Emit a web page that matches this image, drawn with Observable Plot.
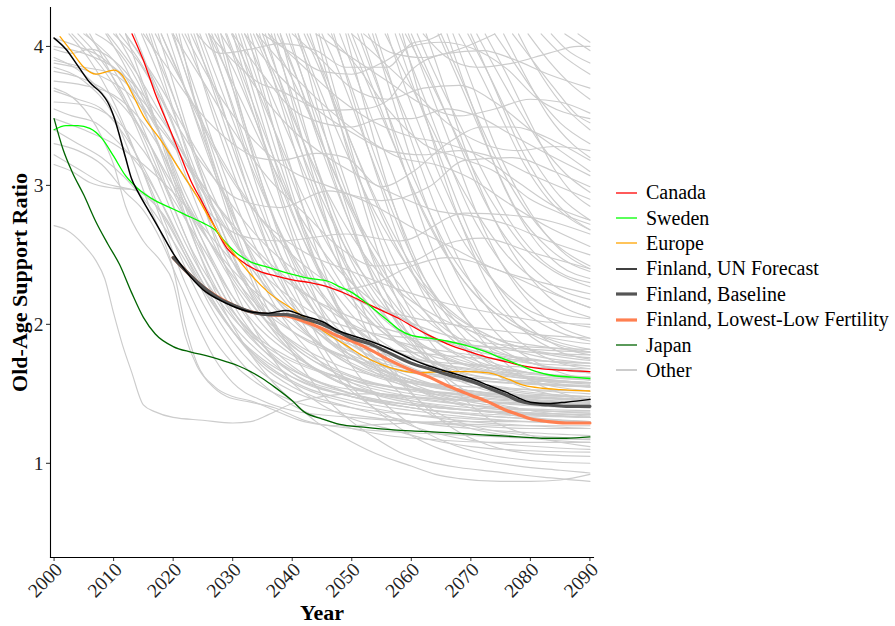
<!DOCTYPE html>
<html><head><meta charset="utf-8">
<script src="https://cdn.jsdelivr.net/npm/d3@7"></script>
<script src="https://cdn.jsdelivr.net/npm/@observablehq/plot@0.6"></script>
<style>
body{margin:0;background:#fff;}
#wrap{position:relative;width:895px;height:626px;font-family:"Liberation Serif","Times New Roman",serif;}
#legend{position:absolute;left:616px;top:180px;}
.item{display:flex;align-items:center;height:25.4px;font-size:20px;color:#000;white-space:nowrap;font-family:"Liberation Serif","Times New Roman",serif;}
.item svg{margin-right:9px;display:block;}
</style></head><body><div id="wrap"><div id="chart"></div><div id="legend"></div></div>
<script>
// ---- tick labels ----
const xTicks = [2000, 2010, 2020, 2030, 2040, 2050, 2060, 2070, 2080, 2090];
const yTicks = [1, 2, 3, 4];

// ---- highlighted series: [year, ratio] ----
const canada = [[2013.1,4.09],[2015,3.9],[2017,3.66],[2019,3.45],[2021,3.24],[2023,3.03],[2025,2.87],[2027,2.7],[2029,2.55],[2031,2.47],[2034,2.39],[2037,2.35],[2040,2.32],[2043,2.3],[2046,2.27],[2049,2.22],[2052,2.16],[2055,2.1],[2058,2.04],[2060,1.99],[2063,1.92],[2066,1.86],[2070,1.8],[2073,1.76],[2076,1.73],[2079,1.7],[2082,1.68],[2085,1.67],[2090,1.66]];
const sweden = [[2000,3.4],[2002,3.43],[2004,3.43],[2006,3.41],[2008,3.34],[2010,3.21],[2012,3.07],[2014,2.98],[2017,2.89],[2020,2.83],[2022,2.79],[2025,2.73],[2027,2.68],[2029,2.58],[2031,2.5],[2033,2.45],[2036,2.41],[2040,2.36],[2043,2.33],[2046,2.31],[2048,2.27],[2050,2.23],[2052,2.17],[2054,2.1],[2056,2.03],[2058,1.96],[2060,1.92],[2063,1.9],[2066,1.88],[2069,1.85],[2072,1.81],[2075,1.76],[2078,1.71],[2081,1.66],[2084,1.63],[2087,1.62],[2090,1.61]];
const europe = [[2001,4.07],[2003,3.96],[2005,3.85],[2007,3.8],[2009,3.82],[2010,3.83],[2011.5,3.79],[2013,3.67],[2015,3.5],[2018,3.32],[2021,3.12],[2024,2.92],[2026,2.77],[2028,2.63],[2030,2.52],[2033,2.36],[2036,2.23],[2040,2.11],[2043,2.02],[2046,1.93],[2049,1.85],[2052,1.77],[2055,1.71],[2058,1.67],[2061,1.65],[2065,1.66],[2069,1.66],[2073,1.65],[2076,1.61],[2079,1.56],[2082,1.54],[2085,1.53],[2090,1.52]];
const finlandUN = [[2000,4.06],[2002,3.98],[2004,3.86],[2006,3.74],[2008,3.66],[2009,3.6],[2010,3.5],[2012,3.2],[2013,3.05],[2014,2.96],[2016,2.81],[2018,2.66],[2020,2.51],[2022,2.39],[2025,2.25],[2028,2.17],[2030,2.13],[2033,2.09],[2036,2.08],[2039,2.1],[2042,2.06],[2045,2.02],[2048,1.95],[2050,1.92],[2053,1.88],[2056,1.83],[2060,1.75],[2063,1.7],[2066,1.66],[2070,1.61],[2073,1.56],[2076,1.51],[2078,1.47],[2080,1.44],[2083,1.43],[2086,1.44],[2090,1.46]];
const finlandBaseline = [[2020,2.48],[2022,2.39],[2025,2.27],[2028,2.18],[2030,2.14],[2033,2.09],[2036,2.07],[2039,2.07],[2042,2.04],[2045,2.0],[2048,1.94],[2050,1.9],[2053,1.86],[2056,1.8],[2060,1.72],[2063,1.68],[2066,1.64],[2070,1.59],[2073,1.54],[2076,1.49],[2078,1.45],[2080,1.43],[2083,1.42],[2086,1.41],[2090,1.41]];
const finlandLowLow = [[2020,2.48],[2025,2.27],[2030,2.14],[2033,2.09],[2036,2.07],[2039,2.06],[2042,2.02],[2045,1.97],[2048,1.91],[2050,1.88],[2053,1.82],[2056,1.75],[2060,1.67],[2063,1.62],[2066,1.56],[2070,1.49],[2073,1.44],[2076,1.38],[2078,1.35],[2080,1.32],[2083,1.3],[2086,1.29],[2090,1.29]];
const japan = [[2000,3.48],[2001.5,3.26],[2003,3.1],[2005,2.93],[2007,2.74],[2009,2.58],[2011,2.43],[2013,2.23],[2015,2.05],[2017,1.93],[2020,1.84],[2023,1.8],[2026,1.77],[2029,1.73],[2031,1.7],[2033,1.66],[2035,1.61],[2037,1.55],[2040,1.45],[2042,1.37],[2045,1.32],[2048,1.28],[2052,1.26],[2057,1.24],[2062,1.23],[2066,1.22],[2070,1.21],[2074,1.2],[2078,1.19],[2082,1.18],[2086,1.18],[2090,1.19]];

// ---- other countries: [year, ratio] ----
const otherSeries = [
 [[2000,4.06],[2004,4.0],[2008,3.92],[2012,3.75],[2016,3.45],[2020,3.05],[2025,2.6],[2030,2.2],[2035,1.9],[2040,1.7],[2050,1.5],[2060,1.4],[2070,1.35],[2080,1.32],[2090,1.3]],
 [[2000,3.98],[2003,3.95],[2006,3.98],[2010,3.9],[2014,3.7],[2018,3.35],[2022,2.95],[2026,2.6],[2030,2.3],[2035,2.0],[2040,1.8],[2050,1.55],[2060,1.45],[2070,1.4],[2080,1.38],[2090,1.36]],
 [[2000,3.9],[2005,3.85],[2010,3.8],[2015,3.6],[2020,3.3],[2025,2.95],[2030,2.6],[2035,2.3],[2040,2.05],[2045,1.85],[2050,1.7],[2060,1.55],[2070,1.48],[2080,1.45],[2090,1.44]],
 [[2000,3.82],[2004,3.78],[2008,3.7],[2012,3.55],[2016,3.3],[2020,2.95],[2025,2.5],[2030,2.1],[2035,1.85],[2040,1.68],[2050,1.5],[2060,1.42],[2070,1.38],[2080,1.35],[2090,1.33]],
 [[2000,3.75],[2005,3.72],[2010,3.65],[2014,3.5],[2018,3.25],[2022,2.9],[2026,2.6],[2030,2.35],[2035,2.1],[2040,1.95],[2050,1.75],[2060,1.6],[2070,1.52],[2080,1.48],[2090,1.45]],
 [[2000,3.68],[2004,3.62],[2008,3.55],[2012,3.35],[2016,3.05],[2020,2.7],[2025,2.3],[2030,1.95],[2035,1.7],[2040,1.55],[2050,1.4],[2060,1.3],[2070,1.25],[2080,1.22],[2090,1.2]],
 [[2000,3.6],[2005,3.58],[2010,3.48],[2015,3.25],[2020,2.9],[2025,2.55],[2030,2.2],[2035,1.95],[2040,1.78],[2050,1.58],[2060,1.48],[2070,1.42],[2080,1.38],[2090,1.37]],
 [[2000,3.55],[2003,3.5],[2007,3.45],[2011,3.3],[2015,3.1],[2019,2.8],[2023,2.45],[2027,2.15],[2031,1.9],[2036,1.7],[2042,1.55],[2050,1.45],[2060,1.38],[2070,1.33],[2080,1.3],[2090,1.29]],
 [[2000,3.48],[2005,3.4],[2010,3.3],[2015,3.15],[2020,2.95],[2025,2.7],[2030,2.45],[2035,2.2],[2040,2.0],[2045,1.85],[2050,1.72],[2060,1.58],[2070,1.5],[2080,1.46],[2090,1.44]],
 [[2000,3.4],[2004,3.3],[2008,3.2],[2012,3.05],[2016,2.85],[2020,2.6],[2025,2.25],[2030,1.95],[2035,1.72],[2040,1.58],[2050,1.43],[2060,1.35],[2070,1.3],[2080,1.27],[2090,1.25]],
 [[2000,3.22],[2004,3.12],[2008,3.02],[2012,2.98],[2015,2.95],[2018,2.8],[2022,2.5],[2026,2.2],[2030,1.95],[2035,1.75],[2040,1.62],[2050,1.48],[2060,1.4],[2070,1.36],[2080,1.34],[2090,1.33]],
 [[2000,3.15],[2003,3.1],[2006,3.02],[2010,2.98],[2013,2.97],[2016,2.9],[2019,2.75],[2022,2.5],[2026,2.15],[2030,1.88],[2035,1.65],[2040,1.52],[2050,1.4],[2060,1.35],[2070,1.32],[2080,1.3],[2090,1.3]],
 [[2000,2.71],[2002,2.68],[2005,2.57],[2007,2.46],[2008.5,2.33],[2010,2.08],[2011.5,1.85],[2013,1.66],[2015,1.42],[2017,1.37],[2020,1.33],[2025,1.31],[2030,1.29],[2033,1.3],[2036,1.35],[2040,1.43],[2045,1.48],[2050,1.5],[2055,1.5],[2060,1.48],[2070,1.45],[2080,1.42],[2090,1.4]],
 [[2000,3.3],[2004,3.25],[2008,3.15],[2012,2.95],[2015,2.82],[2018,2.6],[2021,2.3],[2024,2.0],[2027,1.75],[2030,1.58],[2035,1.45],[2040,1.38],[2050,1.33],[2060,1.3],[2070,1.28],[2080,1.27],[2090,1.27]],
 [[2000,3.7],[2004,3.6],[2008,3.35],[2010,3.15],[2012,2.85],[2015,2.6],[2018,2.45],[2020,2.3],[2022,1.92],[2024,1.7],[2026,1.58],[2029,1.48],[2033,1.44],[2037,1.4],[2042,1.31],[2050,1.25],[2060,1.22],[2070,1.2],[2080,1.18],[2090,1.17]],
 [[2000,3.85],[2005,3.75],[2010,3.5],[2013,3.2],[2016,2.85],[2018,2.65],[2020,2.4],[2022,2.0],[2024,1.72],[2027,1.55],[2030,1.48],[2033,1.45],[2036,1.4],[2042,1.3],[2048,1.27],[2055,1.28],[2065,1.3],[2075,1.3],[2090,1.3]],
 [[2002.5,4.09],[2006,3.9],[2010,3.6],[2014,3.2],[2018,2.75],[2022,2.3],[2026,1.95],[2030,1.72],[2035,1.55],[2040,1.45],[2050,1.35],[2060,1.3],[2070,1.27],[2080,1.25],[2090,1.25]],
 [[2005.4,4.09],[2009,3.9],[2013,3.6],[2017,3.2],[2021,2.75],[2025,2.35],[2030,2.0],[2035,1.78],[2040,1.62],[2050,1.48],[2060,1.42],[2070,1.38],[2080,1.36],[2090,1.35]],
 [[2007,4.09],[2010,4.0],[2014,3.75],[2018,3.35],[2022,2.9],[2026,2.5],[2030,2.15],[2035,1.85],[2040,1.65],[2050,1.48],[2060,1.4],[2070,1.35],[2080,1.32],[2090,1.3]],
 [[2008.7,4.09],[2012,3.85],[2016,3.45],[2020,3.0],[2024,2.55],[2028,2.2],[2032,1.95],[2038,1.72],[2045,1.58],[2055,1.5],[2065,1.46],[2075,1.44],[2090,1.42]],
 [[2010.4,4.09],[2014,3.8],[2018,3.35],[2022,2.85],[2026,2.42],[2030,2.1],[2035,1.82],[2040,1.65],[2050,1.5],[2060,1.42],[2070,1.38],[2080,1.35],[2090,1.33]],
 [[2012,4.09],[2015,3.9],[2019,3.55],[2023,3.1],[2027,2.65],[2031,2.3],[2036,2.0],[2042,1.78],[2050,1.62],[2060,1.52],[2070,1.47],[2080,1.44],[2090,1.42]],
 [[2014.7,4.09],[2018,3.75],[2022,3.3],[2026,2.85],[2030,2.45],[2035,2.1],[2040,1.85],[2045,1.7],[2050,1.6],[2060,1.5],[2070,1.45],[2080,1.42],[2090,1.4]],
 [[2016.4,4.09],[2020,3.65],[2024,3.15],[2028,2.7],[2032,2.3],[2036,2.0],[2040,1.8],[2046,1.62],[2055,1.5],[2065,1.44],[2075,1.4],[2090,1.38]],
 [[2018,4.09],[2021,3.8],[2025,3.35],[2029,2.9],[2033,2.5],[2037,2.2],[2042,1.95],[2048,1.75],[2055,1.62],[2065,1.55],[2075,1.5],[2090,1.48]],
 [[2019.8,4.09],[2023,3.7],[2027,3.2],[2031,2.7],[2035,2.3],[2040,1.95],[2045,1.72],[2050,1.58],[2060,1.45],[2070,1.38],[2080,1.35],[2090,1.33]],
 [[2021.5,4.09],[2025,3.75],[2029,3.3],[2033,2.85],[2037,2.45],[2041,2.15],[2046,1.9],[2052,1.72],[2060,1.6],[2070,1.52],[2080,1.48],[2090,1.46]],
 [[2023,4.09],[2026,3.8],[2030,3.35],[2034,2.9],[2038,2.5],[2042,2.2],[2047,1.92],[2053,1.72],[2060,1.6],[2070,1.5],[2080,1.45],[2090,1.43]],
 [[2025.5,4.09],[2029,3.7],[2033,3.2],[2037,2.75],[2041,2.4],[2046,2.05],[2052,1.8],[2060,1.62],[2070,1.52],[2080,1.48],[2090,1.46]],
 [[2027,4.09],[2030,3.85],[2034,3.45],[2038,3.0],[2042,2.6],[2046,2.3],[2051,2.02],[2057,1.82],[2065,1.68],[2075,1.6],[2090,1.55]],
 [[2028.8,4.09],[2032,3.7],[2036,3.2],[2040,2.7],[2044,2.3],[2048,2.0],[2053,1.75],[2060,1.55],[2070,1.42],[2080,1.36],[2090,1.33]],
 [[2029.8,4.09],[2033,3.8],[2037,3.4],[2041,3.0],[2045,2.65],[2050,2.3],[2055,2.05],[2062,1.85],[2070,1.72],[2080,1.65],[2090,1.62]],
 [[2031,4.09],[2034,3.7],[2038,3.15],[2042,2.65],[2046,2.25],[2050,1.95],[2055,1.7],[2060,1.55],[2070,1.4],[2080,1.33],[2090,1.3]],
 [[2032,4.09],[2035,3.8],[2039,3.4],[2043,3.0],[2047,2.6],[2052,2.25],[2058,1.95],[2065,1.78],[2075,1.65],[2090,1.58]],
 [[2033,4.09],[2036,3.65],[2040,3.1],[2044,2.55],[2048,2.1],[2052,1.8],[2057,1.55],[2062,1.38],[2070,1.25],[2080,1.18],[2090,1.15]],
 [[2035,4.09],[2038,3.75],[2042,3.3],[2046,2.85],[2050,2.45],[2055,2.1],[2060,1.85],[2067,1.65],[2075,1.52],[2090,1.45]],
 [[2036,4.09],[2039,3.85],[2043,3.5],[2047,3.1],[2051,2.75],[2056,2.4],[2062,2.1],[2070,1.85],[2080,1.72],[2090,1.66]],
 [[2037,4.09],[2040,3.6],[2044,3.0],[2048,2.45],[2052,2.0],[2056,1.7],[2060,1.5],[2065,1.35],[2072,1.25],[2080,1.2],[2090,1.18]],
 [[2039,4.09],[2042,3.75],[2046,3.3],[2050,2.85],[2054,2.45],[2059,2.1],[2065,1.85],[2072,1.7],[2080,1.62],[2090,1.58]],
 [[2040.5,4.09],[2044,3.7],[2048,3.15],[2052,2.65],[2056,2.2],[2060,1.9],[2065,1.65],[2070,1.5],[2080,1.38],[2090,1.34]],
 [[2042,4.09],[2045,3.8],[2049,3.4],[2053,3.0],[2057,2.65],[2062,2.3],[2068,2.05],[2075,1.88],[2082,1.8],[2090,1.76]],
 [[2044,4.09],[2047,3.6],[2051,3.0],[2055,2.45],[2059,2.05],[2063,1.75],[2068,1.5],[2073,1.32],[2080,1.2],[2090,1.12]],
 [[2045,4.09],[2048,3.8],[2052,3.35],[2056,2.9],[2060,2.5],[2065,2.15],[2070,1.92],[2078,1.75],[2090,1.65]],
 [[2046.6,4.09],[2050,3.7],[2054,3.2],[2058,2.75],[2062,2.35],[2067,2.0],[2072,1.78],[2080,1.6],[2090,1.52]],
 [[2048,4.09],[2051,3.75],[2055,3.3],[2059,2.85],[2063,2.45],[2068,2.1],[2074,1.85],[2082,1.7],[2090,1.65]],
 [[2049.4,4.09],[2052,3.8],[2056,3.4],[2060,3.0],[2064,2.65],[2069,2.3],[2075,2.05],[2082,1.92],[2090,1.86]],
 [[2051.6,4.09],[2055,3.65],[2059,3.1],[2063,2.6],[2067,2.2],[2072,1.88],[2078,1.65],[2084,1.52],[2090,1.46]],
 [[2052.8,4.09],[2056,3.8],[2060,3.4],[2064,3.0],[2068,2.65],[2073,2.35],[2079,2.12],[2085,2.02],[2090,1.98]],
 [[2054,4.09],[2057,3.7],[2061,3.2],[2065,2.75],[2069,2.38],[2074,2.05],[2080,1.82],[2085,1.72],[2090,1.68]],
 [[2055.6,4.09],[2059,3.8],[2063,3.45],[2067,3.1],[2071,2.8],[2076,2.5],[2082,2.28],[2090,2.12]],
 [[2057.3,4.09],[2060,3.75],[2064,3.3],[2068,2.85],[2072,2.45],[2077,2.1],[2083,1.88],[2090,1.78]],
 [[2059,4.09],[2062,3.85],[2066,3.5],[2070,3.15],[2074,2.85],[2079,2.55],[2084,2.38],[2090,2.27]],
 [[2059.5,4.09],[2063,3.7],[2067,3.25],[2071,2.8],[2075,2.45],[2080,2.15],[2085,1.98],[2090,1.9]],
 [[2061,4.09],[2064,3.8],[2068,3.45],[2072,3.1],[2076,2.78],[2081,2.5],[2086,2.35],[2090,2.3]],
 [[2064.5,4.09],[2068,3.75],[2072,3.35],[2076,2.95],[2080,2.65],[2085,2.42],[2090,2.33]],
 [[2068,4.09],[2071,3.85],[2075,3.5],[2079,3.15],[2083,2.9],[2087,2.75],[2090,2.68]],
 [[2072.4,4.09],[2076,3.8],[2080,3.45],[2084,3.12],[2087,2.95],[2090,2.85]],
 [[2074,4.09],[2077,3.9],[2081,3.65],[2085,3.45],[2090,3.3]],
 [[2078,4.09],[2081,3.85],[2085,3.6],[2090,3.4]],
 [[2079.6,4.09],[2083,3.9],[2087,3.72],[2090,3.62]],
 [[2081.8,4.09],[2085,3.95],[2090,3.8]],
 [[2083.5,4.09],[2086,3.98],[2090,3.88]],
 [[2085.8,4.09],[2090,3.97]],
 [[2088,4.09],[2090,4.03]],
 [[2024,4.09],[2028,3.95],[2033,3.98],[2038,4.02],[2044,3.97],[2049,3.85],[2056,3.85],[2060,4.02],[2063,4.05],[2065,4.09]],
 [[2026,4.09],[2030,3.9],[2034,3.75],[2038,3.68],[2046,3.54],[2052,3.55],[2056,3.61],[2060,3.83],[2066,3.95],[2072,3.97],[2077,3.91],[2083,3.8],[2090,3.7]],
 [[2015,4.09],[2019,3.85],[2024,3.55],[2030,3.3],[2034,3.2],[2038,3.18],[2044,3.23],[2049,3.2],[2055,2.99],[2060,3.09],[2066,3.3],[2072,3.42],[2077,3.42],[2084,3.32],[2090,3.18]],
 [[2010,4.09],[2014,3.9],[2019,3.55],[2025,3.15],[2031,2.9],[2038,2.84],[2046,2.96],[2055,2.89],[2063,2.99],[2069,3.18],[2077,3.2],[2084,3.1],[2090,2.99]],
 [[2005,4.09],[2010,3.9],[2016,3.5],[2022,3.05],[2028,2.72],[2033,2.62],[2038,2.6],[2049,2.65],[2058,2.6],[2069,2.8],[2080,2.77],[2090,2.65]],
 [[2035,4.09],[2040,3.95],[2045,3.82],[2050,3.8],[2055,3.88],[2060,4.0],[2065,4.03],[2070,3.99],[2076,3.84],[2081,3.63],[2090,3.48]],
 [[2030,4.09],[2035,3.8],[2040,3.55],[2045,3.45],[2050,3.42],[2055,3.48],[2060,3.48],[2066,3.55],[2071,3.5],[2077,3.36],[2084,3.2],[2090,3.07]],
 [[2020,4.09],[2025,3.75],[2030,3.4],[2036,3.05],[2042,2.8],[2048,2.55],[2054,2.42],[2060,2.45],[2066,2.58],[2072,2.62],[2080,2.52],[2090,2.4]],
 [[2012,4.09],[2018,3.7],[2024,3.25],[2030,2.85],[2036,2.55],[2042,2.35],[2048,2.25],[2054,2.3],[2060,2.42],[2066,2.48],[2074,2.4],[2082,2.25],[2090,2.12]],
 [[2034,4.09],[2040,3.8],[2046,3.55],[2052,3.35],[2058,3.2],[2064,3.15],[2070,3.05],[2076,2.88],[2083,2.7],[2090,2.56]],
 [[2040,4.09],[2045,3.9],[2050,3.7],[2056,3.62],[2062,3.7],[2068,3.72],[2074,3.6],[2080,3.4],[2085,3.25],[2090,3.1]],
 [[2022,4.09],[2027,3.7],[2033,3.35],[2040,3.1],[2047,2.98],[2054,2.85],[2060,2.7],[2067,2.55],[2074,2.4],[2082,2.3],[2090,2.22]],
 [[2018,4.09],[2023,3.6],[2029,3.1],[2035,2.75],[2042,2.52],[2050,2.38],[2058,2.25],[2066,2.15],[2074,2.08],[2082,2.02],[2090,2.0]],
 [[2046,4.09],[2051,3.85],[2056,3.55],[2062,3.3],[2068,3.2],[2074,3.1],[2080,2.9],[2085,2.8],[2090,2.72]],
 [[2062,4.09],[2066,3.92],[2071,3.85],[2077,3.88],[2083,3.95],[2088,4.0],[2090,4.0]],
 [[2012,4.09],[2016,3.6],[2020,3.05],[2024,2.55],[2028,2.15],[2032,1.85],[2036,1.62],[2040,1.45],[2044,1.3],[2048,1.2],[2054,1.07],[2060,0.98],[2064,0.92],[2068,0.89],[2075,0.87],[2080,0.87],[2085,0.88],[2090,0.92]],
 [[2020,4.09],[2024,3.55],[2028,3.0],[2032,2.5],[2036,2.1],[2040,1.8],[2045,1.5],[2050,1.3],[2054,1.18],[2058,1.08],[2063,1.01],[2068,0.97],[2074,0.94],[2082,0.9],[2090,0.87]],
 [[2026,4.09],[2030,3.55],[2034,3.0],[2038,2.5],[2042,2.1],[2046,1.78],[2050,1.55],[2055,1.35],[2060,1.2],[2065,1.1],[2070,1.04],[2078,0.98],[2085,0.95],[2090,0.93]],
 [[2030,4.09],[2034,3.5],[2038,2.9],[2042,2.4],[2046,2.0],[2050,1.7],[2055,1.45],[2060,1.28],[2066,1.15],[2072,1.07],[2080,1.02],[2090,1.0]],
 [[2038,4.09],[2041,3.6],[2045,3.0],[2049,2.45],[2053,2.0],[2057,1.68],[2062,1.42],[2067,1.25],[2073,1.13],[2080,1.07],[2090,1.05]],
 [[2016,4.09],[2020,3.55],[2024,3.0],[2028,2.5],[2032,2.1],[2036,1.8],[2040,1.58],[2045,1.42],[2050,1.32],[2056,1.25],[2062,1.18],[2070,1.12],[2080,1.09],[2090,1.08]],
 [[2024,4.09],[2028,3.6],[2032,3.05],[2036,2.55],[2040,2.15],[2044,1.85],[2048,1.6],[2053,1.42],[2060,1.27],[2068,1.18],[2078,1.13],[2090,1.1]],
 [[2000,3.92],[2005,3.8],[2010,3.55],[2015,3.1],[2020,2.6],[2025,2.15],[2030,1.8],[2035,1.57],[2040,1.42],[2045,1.32],[2050,1.25],[2056,1.2],[2064,1.17],[2074,1.15],[2090,1.15]],
 [[2003,4.09],[2008,3.85],[2014,3.45],[2020,3.0],[2026,2.6],[2032,2.3],[2038,2.1],[2045,1.95],[2052,1.85],[2060,1.8],[2070,1.76],[2080,1.74],[2090,1.72]],
 [[2009,4.09],[2014,3.8],[2020,3.35],[2026,2.9],[2032,2.5],[2038,2.25],[2045,2.05],[2052,1.95],[2060,1.9],[2070,1.85],[2080,1.82],[2090,1.8]],
 [[2017,4.09],[2022,3.7],[2028,3.2],[2034,2.8],[2040,2.5],[2046,2.3],[2052,2.15],[2060,2.05],[2070,1.98],[2080,1.93],[2090,1.9]],
 [[2026,4.09],[2031,3.65],[2036,3.2],[2041,2.8],[2046,2.48],[2052,2.22],[2058,2.05],[2066,1.92],[2076,1.85],[2090,1.82]],
 [[2034,4.09],[2038,3.7],[2043,3.2],[2048,2.78],[2053,2.45],[2059,2.2],[2066,2.02],[2074,1.9],[2082,1.84],[2090,1.8]],
 [[2041,4.09],[2045,3.65],[2050,3.15],[2055,2.72],[2060,2.38],[2066,2.1],[2073,1.92],[2081,1.8],[2090,1.74]],
 [[2050,4.09],[2054,3.65],[2058,3.2],[2062,2.8],[2067,2.42],[2073,2.12],[2080,1.93],[2090,1.8]],
 [[2000,4.0],[2005,3.95],[2010,3.85],[2015,3.65],[2020,3.35],[2025,3.0],[2030,2.7],[2036,2.42],[2042,2.22],[2050,2.05],[2060,1.92],[2070,1.85],[2080,1.8],[2090,1.78]],
 [[2000,3.88],[2006,3.82],[2012,3.68],[2018,3.4],[2024,3.05],[2030,2.72],[2036,2.45],[2043,2.2],[2050,2.0],[2060,1.85],[2070,1.78],[2080,1.72],[2090,1.7]],
 [[2058,4.09],[2062,3.65],[2066,3.2],[2070,2.8],[2075,2.45],[2080,2.2],[2085,2.08],[2090,2.04]],
 [[2066,4.09],[2070,3.6],[2074,3.15],[2078,2.8],[2083,2.55],[2087,2.43],[2090,2.38]],
 [[2070,4.09],[2074,3.7],[2078,3.3],[2082,3.0],[2086,2.8],[2090,2.68]],
 [[2028,4.09],[2031,3.6],[2035,3.0],[2039,2.5],[2043,2.15],[2048,1.85],[2054,1.65],[2062,1.52],[2072,1.45],[2090,1.4]],
 [[2030.5,4.09],[2034,3.6],[2038,3.05],[2042,2.6],[2046,2.25],[2051,1.95],[2057,1.75],[2065,1.62],[2075,1.55],[2090,1.5]],
 [[2032.5,4.09],[2036,3.55],[2040,2.95],[2044,2.45],[2048,2.08],[2053,1.8],[2059,1.6],[2067,1.48],[2078,1.42],[2090,1.4]],
 [[2034.5,4.09],[2038,3.6],[2042,3.05],[2046,2.6],[2050,2.25],[2055,1.98],[2061,1.78],[2069,1.65],[2080,1.58],[2090,1.55]],
 [[2036.5,4.09],[2040,3.65],[2044,3.15],[2048,2.7],[2052,2.35],[2057,2.05],[2063,1.82],[2071,1.68],[2081,1.6],[2090,1.57]],
 [[2038,4.09],[2041,3.75],[2045,3.25],[2049,2.8],[2053,2.42],[2058,2.1],[2064,1.88],[2072,1.72],[2082,1.64],[2090,1.6]],
 [[2041,4.09],[2044,3.6],[2048,3.0],[2052,2.5],[2056,2.12],[2061,1.82],[2067,1.62],[2075,1.5],[2090,1.42]],
 [[2043,4.09],[2046,3.7],[2050,3.2],[2054,2.75],[2058,2.38],[2063,2.05],[2069,1.82],[2077,1.68],[2090,1.6]],
 [[2044.5,4.09],[2048,3.55],[2052,2.95],[2056,2.45],[2060,2.08],[2065,1.78],[2071,1.58],[2080,1.45],[2090,1.4]],
 [[2047,4.09],[2050,3.65],[2054,3.1],[2058,2.6],[2062,2.22],[2067,1.92],[2073,1.72],[2081,1.6],[2090,1.55]],
 [[2049,4.09],[2052,3.6],[2056,3.0],[2060,2.5],[2064,2.12],[2069,1.82],[2075,1.62],[2083,1.5],[2090,1.46]],
 [[2051,4.09],[2054,3.75],[2058,3.3],[2062,2.9],[2066,2.55],[2071,2.25],[2077,2.02],[2084,1.88],[2090,1.82]],
 [[2053.5,4.09],[2057,3.6],[2061,3.05],[2065,2.6],[2069,2.25],[2074,1.95],[2080,1.75],[2090,1.6]],
 [[2056,4.09],[2059,3.7],[2063,3.25],[2067,2.85],[2071,2.5],[2076,2.2],[2082,2.0],[2090,1.88]],
 [[2058.5,4.09],[2062,3.55],[2066,3.0],[2070,2.55],[2074,2.2],[2079,1.95],[2085,1.8],[2090,1.75]],
 [[2060,4.09],[2063,3.8],[2067,3.4],[2071,3.0],[2075,2.68],[2080,2.42],[2085,2.25],[2090,2.18]],
 [[2062.5,4.09],[2066,3.65],[2070,3.15],[2074,2.75],[2078,2.45],[2083,2.2],[2090,2.05]],
 [[2065,4.09],[2068,3.8],[2072,3.4],[2076,3.05],[2080,2.78],[2085,2.55],[2090,2.42]],
 [[2067,4.09],[2070,3.75],[2074,3.3],[2078,2.95],[2082,2.68],[2086,2.5],[2090,2.4]],
 [[2069.5,4.09],[2073,3.8],[2077,3.45],[2081,3.15],[2085,2.92],[2090,2.75]],
 [[2071,4.09],[2074,3.85],[2078,3.55],[2082,3.28],[2086,3.08],[2090,2.95]],
 [[2075.5,4.09],[2079,3.8],[2083,3.5],[2087,3.3],[2090,3.2]],
 [[2077,4.09],[2080,3.92],[2084,3.7],[2088,3.5],[2090,3.45]],
 [[2013.5,4.09],[2017,3.7],[2021,3.2],[2025,2.75],[2029,2.4],[2034,2.1],[2040,1.88],[2048,1.7],[2058,1.6],[2070,1.55],[2090,1.52]],
 [[2015.5,4.09],[2019,3.75],[2023,3.3],[2027,2.9],[2031,2.55],[2036,2.25],[2042,2.02],[2050,1.85],[2060,1.75],[2075,1.7],[2090,1.68]],
 [[2020.5,4.09],[2024,3.65],[2028,3.15],[2032,2.72],[2036,2.38],[2041,2.08],[2047,1.85],[2055,1.7],[2065,1.62],[2090,1.56]],
 [[2022.5,4.09],[2026,3.6],[2030,3.1],[2034,2.65],[2038,2.3],[2043,2.0],[2049,1.78],[2057,1.62],[2068,1.52],[2090,1.46]],
 [[2024.5,4.09],[2028,3.7],[2032,3.25],[2036,2.85],[2040,2.5],[2045,2.2],[2051,1.95],[2059,1.78],[2070,1.68],[2090,1.62]],
 [[2027.5,4.09],[2031,3.55],[2035,3.0],[2039,2.55],[2043,2.2],[2048,1.9],[2054,1.68],[2062,1.52],[2073,1.42],[2090,1.36]],
 [[2044,4.09],[2050,3.92],[2056,3.75],[2062,3.58],[2068,3.5],[2074,3.55],[2080,3.62],[2085,3.6],[2090,3.52]],
 [[2050,4.09],[2055,3.9],[2060,3.7],[2066,3.45],[2072,3.3],[2078,3.25],[2084,3.28],[2090,3.25]],
 [[2052,4.09],[2057,3.95],[2062,3.92],[2068,3.98],[2072,4.05],[2074,4.09]],
 [[2036,4.09],[2042,3.85],[2048,3.62],[2054,3.45],[2060,3.35],[2066,3.3],[2072,3.2],[2078,3.02],[2084,2.85],[2090,2.75]],
 [[2028,4.09],[2034,3.7],[2040,3.4],[2046,3.2],[2052,3.05],[2058,2.92],[2064,2.82],[2070,2.78],[2076,2.72],[2083,2.6],[2090,2.5]],
 [[2032,4.09],[2038,3.78],[2044,3.55],[2050,3.38],[2056,3.25],[2062,3.22],[2068,3.25],[2074,3.2],[2080,3.08],[2090,2.9]],
 [[2017.5,4.09],[2021,3.6],[2025,3.05],[2029,2.6],[2033,2.25],[2038,1.95],[2044,1.75],[2052,1.6],[2062,1.52],[2075,1.48],[2090,1.45]],
 [[2019,4.09],[2022,3.7],[2026,3.2],[2030,2.78],[2034,2.45],[2039,2.15],[2045,1.92],[2053,1.75],[2063,1.65],[2076,1.6],[2090,1.58]],
 [[2021,4.09],[2024,3.55],[2028,2.95],[2032,2.45],[2036,2.05],[2041,1.78],[2047,1.6],[2055,1.48],[2066,1.4],[2090,1.35]],
 [[2023.5,4.09],[2027,3.65],[2031,3.15],[2035,2.72],[2039,2.38],[2044,2.08],[2050,1.85],[2058,1.7],[2070,1.6],[2090,1.55]],
 [[2026.5,4.09],[2030,3.7],[2034,3.2],[2038,2.78],[2042,2.42],[2047,2.12],[2053,1.9],[2061,1.75],[2072,1.66],[2090,1.6]],
 [[2029,4.09],[2032,3.75],[2036,3.3],[2040,2.88],[2044,2.52],[2049,2.2],[2055,1.95],[2063,1.78],[2074,1.68],[2090,1.62]],
 [[2031.5,4.09],[2035,3.65],[2039,3.15],[2043,2.72],[2047,2.38],[2052,2.08],[2058,1.85],[2066,1.7],[2077,1.62],[2090,1.58]],
 [[2033.5,4.09],[2037,3.75],[2041,3.3],[2045,2.9],[2049,2.55],[2054,2.25],[2060,2.0],[2068,1.84],[2079,1.75],[2090,1.72]],
 [[2035.5,4.09],[2039,3.6],[2043,3.05],[2047,2.6],[2051,2.25],[2056,1.95],[2062,1.72],[2070,1.58],[2080,1.5],[2090,1.48]],
 [[2037.5,4.09],[2041,3.75],[2045,3.3],[2049,2.9],[2053,2.55],[2058,2.22],[2064,1.98],[2072,1.82],[2082,1.74],[2090,1.7]],
 [[2039.5,4.09],[2043,3.6],[2047,3.05],[2051,2.58],[2055,2.2],[2060,1.9],[2066,1.68],[2074,1.55],[2090,1.48]],
 [[2042.5,4.09],[2046,3.75],[2050,3.3],[2054,2.88],[2058,2.52],[2063,2.2],[2069,1.98],[2077,1.82],[2090,1.72]],
 [[2004,4.09],[2007,3.95],[2011,3.7],[2015,3.35],[2019,2.95],[2023,2.55],[2028,2.2],[2033,1.95],[2040,1.75],[2050,1.6],[2062,1.52],[2075,1.48],[2090,1.46]],
 [[2006,4.09],[2009,3.85],[2013,3.5],[2017,3.1],[2021,2.68],[2026,2.28],[2031,2.0],[2037,1.8],[2045,1.65],[2055,1.56],[2070,1.5],[2090,1.48]],
 [[2011,4.09],[2014,3.92],[2018,3.62],[2022,3.22],[2026,2.8],[2030,2.45],[2035,2.15],[2041,1.92],[2050,1.75],[2062,1.65],[2076,1.6],[2090,1.58]]
];

// ---- legend entries ----
const legendNames = ["Canada", "Sweden", "Europe", "Finland, UN Forecast", "Finland, Baseline", "Finland, Lowest-Low Fertility", "Japan", "Other"];
const legendColors = ["#ff0000", "#00ff00", "#ffa500", "#000000", "#555555", "#ff7f50", "#006400", "#cccccc"];
const legendWidths = [1.3, 1.3, 1.3, 1.5, 3.2, 3.2, 1.3, 2];

const otherRows = otherSeries.flatMap((pts, i) => pts.map(([year, value]) => ({id: i, year, value})));
const rows = pts => pts.map(([year, value]) => ({year, value}));
const font = "Liberation Serif, Times New Roman, serif";
const ln = (pts, stroke, w) => Plot.line(rows(pts), {x: "year", y: "value", stroke, strokeWidth: w, curve: "monotone-x"});

const chart = Plot.plot({
  width: 895, height: 626,
  marginLeft: 50, marginRight: 302, marginTop: 7, marginBottom: 69,
  style: {fontFamily: font, background: "#fff", overflow: "visible"},
  x: {domain: [1999.4, 2090.6]},
  y: {domain: [0.322, 4.28]},
  marks: [
    Plot.line(otherRows, {x: "year", y: "value", z: "id", stroke: "#cccccc", strokeWidth: 1.15, curve: "monotone-x"}),
    ln(canada, legendColors[0], 1.3),
    ln(sweden, legendColors[1], 1.3),
    ln(europe, legendColors[2], 1.3),
    ln(japan, legendColors[6], 1.3),
    ln(finlandLowLow, legendColors[5], 3.2),
    ln(finlandBaseline, legendColors[4], 3.2),
    ln(finlandUN, legendColors[3], 1.5),
    Plot.axisX({ticks: xTicks, tickSize: 4, tickFormat: () => "", label: null, color: "#333"}),
    Plot.axisX({ticks: xTicks, tickFormat: d => String(d), tickRotate: -45, tickSize: 0, tickPadding: 9, dx: 5, fontSize: 19.5, fontFamily: font, label: null, color: "#222"}),
    Plot.axisY({ticks: yTicks, tickFormat: d => String(d), tickSize: 4, tickPadding: 3, fontSize: 19.5, fontFamily: font, label: null, color: "#222"}),
    Plot.frame({anchor: "left", stroke: "#000", strokeWidth: 1.1}),
    Plot.frame({anchor: "bottom", stroke: "#000", strokeWidth: 1.1}),
    Plot.text(["Year"], {text: d => d, frameAnchor: "bottom", textAnchor: "middle", dy: 62, fontSize: 22, fontWeight: "bold", fontFamily: font, fill: "#000"}),
    Plot.text(["Old-Age Support Ratio"], {text: d => d, frameAnchor: "left", textAnchor: "middle", dx: -31, rotate: -90, fontSize: 22, fontWeight: "bold", fontFamily: font, fill: "#000"})
  ]
});
document.getElementById("chart").appendChild(chart);

const legend = document.getElementById("legend");
legendNames.forEach((name, i) => {
  const item = document.createElement("div");
  item.className = "item";
  item.innerHTML = `<svg width="21" height="8"><line x1="0" x2="21" y1="4" y2="4" stroke="${legendColors[i]}" stroke-width="${legendWidths[i]}"/></svg><span>${name}</span>`;
  legend.appendChild(item);
});
</script></body></html>
